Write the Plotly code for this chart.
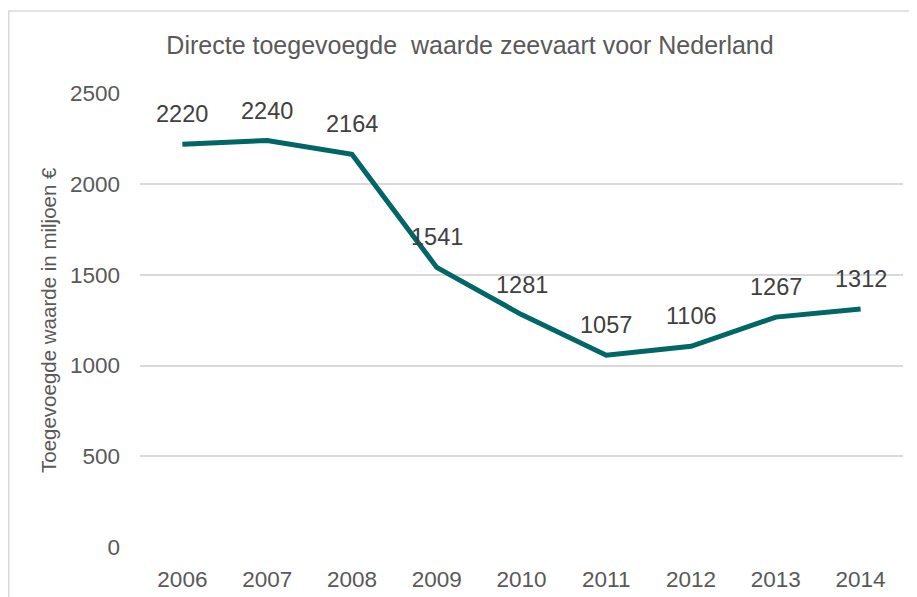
import plotly.graph_objects as go

years = ["2006", "2007", "2008", "2009", "2010", "2011", "2012", "2013", "2014"]
values = [2220, 2240, 2164, 1541, 1281, 1057, 1106, 1267, 1312]
y_ticks = [0, 500, 1000, 1500, 2000, 2500]

title_text = "Directe toegevoegde  waarde zeevaart voor Nederland"
y_title = "Toegevoegde waarde in miljoen €"

TXT = "#595959"
LINE = "#006666"
FONT = "Liberation Sans, Arial, sans-serif"

fig = go.Figure()
fig.add_trace(go.Scatter(
    x=years, y=values, mode="lines",
    line=dict(color=LINE, width=5),
    hoverinfo="skip", showlegend=False,
))

for i, v in enumerate(values):
    fig.add_annotation(x=i, y=v, text=str(v), showarrow=False, yshift=30,
                       font=dict(family=FONT, size=23.5, color="#404040"))

# page has an 8px body offset; figure is sized to fit the window
W, H = 909, 589
L, R, T, B = 132, 14, 85, 50
pw = W - L - R
ph = H - T - B

def px_x(p):
    return (p - L) / pw

def px_y(p):
    return (H - B - p) / ph

# outer chart border (partially cropped)
fig.add_shape(type="rect", xref="paper", yref="paper",
              x0=px_x(0.8), x1=px_x(940), y0=px_y(620), y1=px_y(3),
              line=dict(color="#d9d9d9", width=1.5), layer="below")

fig.add_annotation(xref="paper", yref="paper", x=px_x(40), y=0.5,
                   xanchor="center", yanchor="middle",
                   text=y_title, textangle=-90, showarrow=False,
                   font=dict(family=FONT, size=20.5, color=TXT))

fig.update_layout(
    width=W, height=H,
    margin=dict(l=L, r=R, t=T, b=B, autoexpand=False),
    paper_bgcolor="white", plot_bgcolor="white",
    font=dict(family=FONT, size=22, color=TXT),
    title=dict(text=title_text, x=462 / W, xref="container", xanchor="center",
               y=1 - 37 / H, yref="container", yanchor="middle",
               font=dict(family=FONT, size=25, color=TXT)),
    xaxis=dict(type="category", range=[-0.5, len(years) - 0.5],
               showgrid=False, zeroline=False, showline=False,
               ticks="", ticklabelstandoff=16,
               tickfont=dict(family=FONT, size=22.5, color=TXT)),
    yaxis=dict(range=[0, 2502], tickvals=y_ticks, showgrid=True,
               gridcolor="#d9d9d9", gridwidth=1.5, zeroline=False,
               showline=False, ticks="", ticklabelstandoff=19,
               tickfont=dict(family=FONT, size=22.5, color=TXT)),
)

fig.write_html("out.html")
